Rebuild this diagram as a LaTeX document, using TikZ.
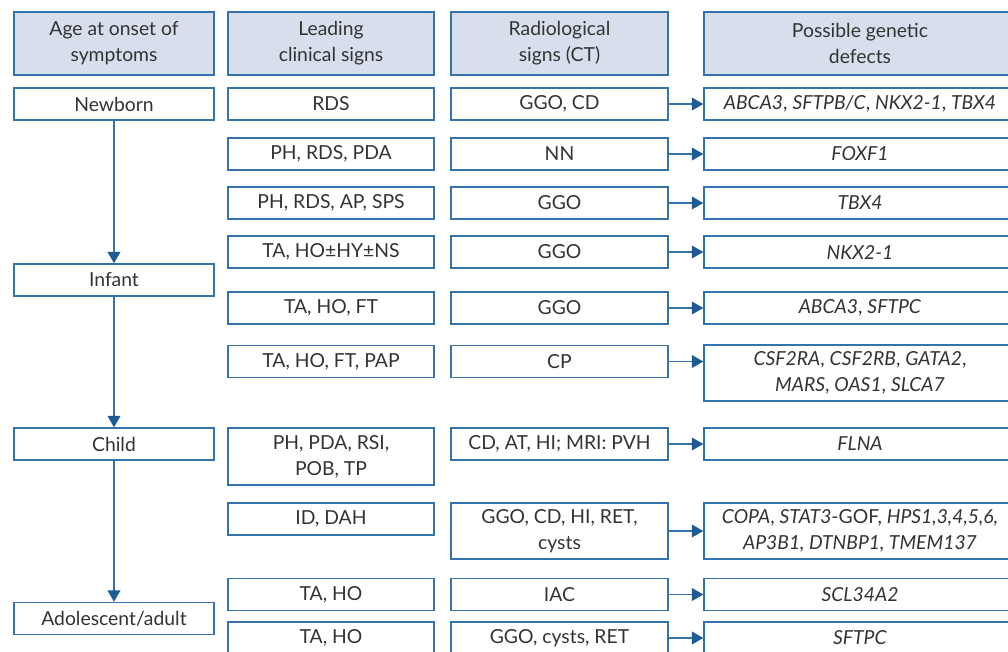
\documentclass[tikz,border=0pt]{standalone}
\usepackage{fontspec}
\setmainfont{Lato}
\usetikzlibrary{arrows.meta}
\definecolor{bordc}{HTML}{3473AE}
\definecolor{arrc}{HTML}{1D5B96}
\definecolor{headc}{HTML}{D6DFEB}
\definecolor{txtc}{HTML}{333333}
\tikzset{
  box/.style={draw=bordc, line width=1.1pt, fill=white, inner sep=0pt, align=center,
    text=txtc, font=\fontsize{14.5pt}{19.5pt}\selectfont},
  head/.style={box, fill=headc, minimum height=47.25pt},
  c1/.style={minimum width=150pt},
  c2/.style={minimum width=154.5pt},
  c3/.style={minimum width=162.75pt},
  c4/.style={minimum width=234pt},
  one/.style={minimum height=24pt},
  two/.style={minimum height=42pt},
  conn/.style={draw=bordc, line width=1.1pt, -{Triangle[length=8.5pt,width=9.5pt,fill=arrc,color=arrc]}}
}
\begin{document}
\begin{tikzpicture}[x=0.75pt,y=-0.75pt]
\useasboundingbox (0,0) rectangle (1008,651);
% headers
\node[head,c1] (h1) at (114,43.5) {Age at onset of\\symptoms};
\node[head,c2] (h2) at (331,43.5) {Leading\\clinical signs};
\node[head,c3] (h3) at (559.5,43.5) {Radiological\\signs (CT)};
\node[head,c4] (h4) at (860,43.5) {Possible genetic\\defects};
% age column
\node[box,c1,one] (newborn) at (114,104) {Newborn};
\node[box,c1,one] (infant) at (114,280) {Infant};
\node[box,c1,one] (child) at (114,444) {Child};
\node[box,c1,one] (adult) at (114,618.5) {Adolescent/adult};
% row 1
\node[box,c2,one] (a1) at (331,104) {RDS};
\node[box,c3,one] (b1) at (559.5,104) {GGO, CD};
\node[box,c4,one] (g1) at (860,104) {\textit{ABCA3}, \textit{SFTPB/C}, \textit{NKX2-1}, \textit{TBX4}};
% row 2
\node[box,c2,one] (a2) at (331,154) {PH, RDS, PDA};
\node[box,c3,one] (b2) at (559.5,154) {NN};
\node[box,c4,one] (g2) at (860,154) {\textit{FOXF1}};
% row 3
\node[box,c2,one] (a3) at (331,203) {PH, RDS, AP, SPS};
\node[box,c3,one] (b3) at (559.5,203) {GGO};
\node[box,c4,one] (g3) at (860,203) {\textit{TBX4}};
% row 4
\node[box,c2,one] (a4) at (331,252) {TA, HO±HY±NS};
\node[box,c3,one] (b4) at (559.5,252) {GGO};
\node[box,c4,one] (g4) at (860,252) {\textit{NKX2-1}};
% row 5
\node[box,c2,one] (a5) at (331,308) {TA, HO, FT};
\node[box,c3,one] (b5) at (559.5,308) {GGO};
\node[box,c4,one] (g5) at (860,308) {\textit{ABCA3}, \textit{SFTPC}};
% row 6
\node[box,c2,one] (a6) at (331,361.5) {TA, HO, FT, PAP};
\node[box,c3,one] (b6) at (559.5,361.5) {CP};
\node[box,c4,two] (g6) at (860,373) {\textit{CSF2RA}, \textit{CSF2RB}, \textit{GATA2},\\\textit{MARS}, \textit{OAS1}, \textit{SLCA7}};
% row 7
\node[box,c2,two,minimum height=42.75pt] (a7) at (331,456.5) {PH, PDA, RSI,\\POB, TP};
\node[box,c3,one] (b7) at (559.5,444) {CD, AT, HI; MRI: PVH};
\node[box,c4,one] (g7) at (860,444) {\textit{FLNA}};
% row 8
\node[box,c2,one] (a8) at (331,519) {ID, DAH};
\node[box,c3,two] (b8) at (559.5,531) {GGO, CD, HI, RET,\\cysts};
\node[box,c4,two] (g8) at (860,531) {\textit{COPA}, \textit{STAT3}-GOF, \textit{HPS1,3,4,5,6,}\\\textit{AP3B1, DTNBP1, TMEM137}};
% row 9
\node[box,c2,one] (a9) at (331,594.5) {TA, HO};
\node[box,c3,one] (b9) at (559.5,594.5) {IAC};
\node[box,c4,one] (g9) at (860,594.5) {\textit{SCL34A2}};
% row 10
\node[box,c2,one] (a10) at (331,638) {TA, HO};
\node[box,c3,one] (b10) at (559.5,638) {GGO, cysts, RET};
\node[box,c4,one] (g10) at (860,638) {\textit{SFTPC}};
% vertical arrows
\draw[conn] (newborn) -- (infant);
\draw[conn] (infant) -- (child);
\draw[conn] (child) -- (adult);
% horizontal arrows
\foreach \i in {1,...,10}{
  \draw[conn] (b\i.east) -- (b\i.east -| g\i.west);
}
\end{tikzpicture}
\end{document}
